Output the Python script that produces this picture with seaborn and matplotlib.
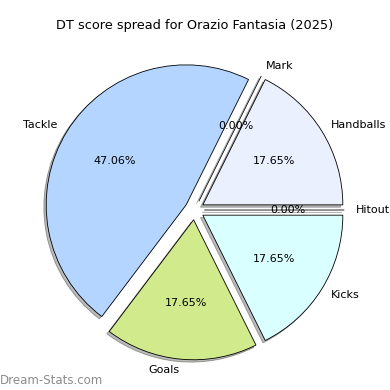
import matplotlib
matplotlib.use('Agg')
import matplotlib.pyplot as plt
import seaborn as sns

# Score categories and counts (3/17 = 17.65%, 8/17 = 47.06%)
categories = ['Handballs', 'Mark', 'Tackle', 'Goals', 'Kicks', 'Hitout']
counts = [3, 0, 8, 3, 3, 0]
colours = ['#ebf0ff', '#e0e0ff', '#b3d5ff', '#d0ea8c', '#d9ffff', '#f0f0f0']

sns.set_style('white')
plt.rcParams['font.family'] = ['DejaVu Sans']
plt.rcParams['text.color'] = 'black'

fig = plt.figure(figsize=(3.9, 3.9), dpi=100)
ax = fig.add_axes([0.05, 0.0128, 0.8974, 0.8974])
explode = [0.07] * len(counts)
ax.pie(counts, labels=categories, colors=colours, explode=explode,
       autopct='%.2f%%', shadow={'ox': -0.012, 'oy': -0.012, 'facecolor': '#777777'},
       startangle=0, labeldistance=1.08,
       wedgeprops={'edgecolor': 'black', 'linewidth': 0.6},
       textprops={'fontsize': 8, 'color': 'black'})
ax.set_xlim(-1.25, 1.25)
ax.set_ylim(-1.25, 1.25)
ax.set_aspect('equal')

fig.suptitle('DT score spread for Orazio Fantasia (2025)', fontsize=9.3,
             y=1 - 25 / 390, va='center', color='black')
fig.text(0.0, 1 - 380 / 390, 'Dream-Stats.com', color='#8c8c8c', fontsize=8.5,
         ha='left', va='center')
fig.savefig('out.png', dpi=100)
